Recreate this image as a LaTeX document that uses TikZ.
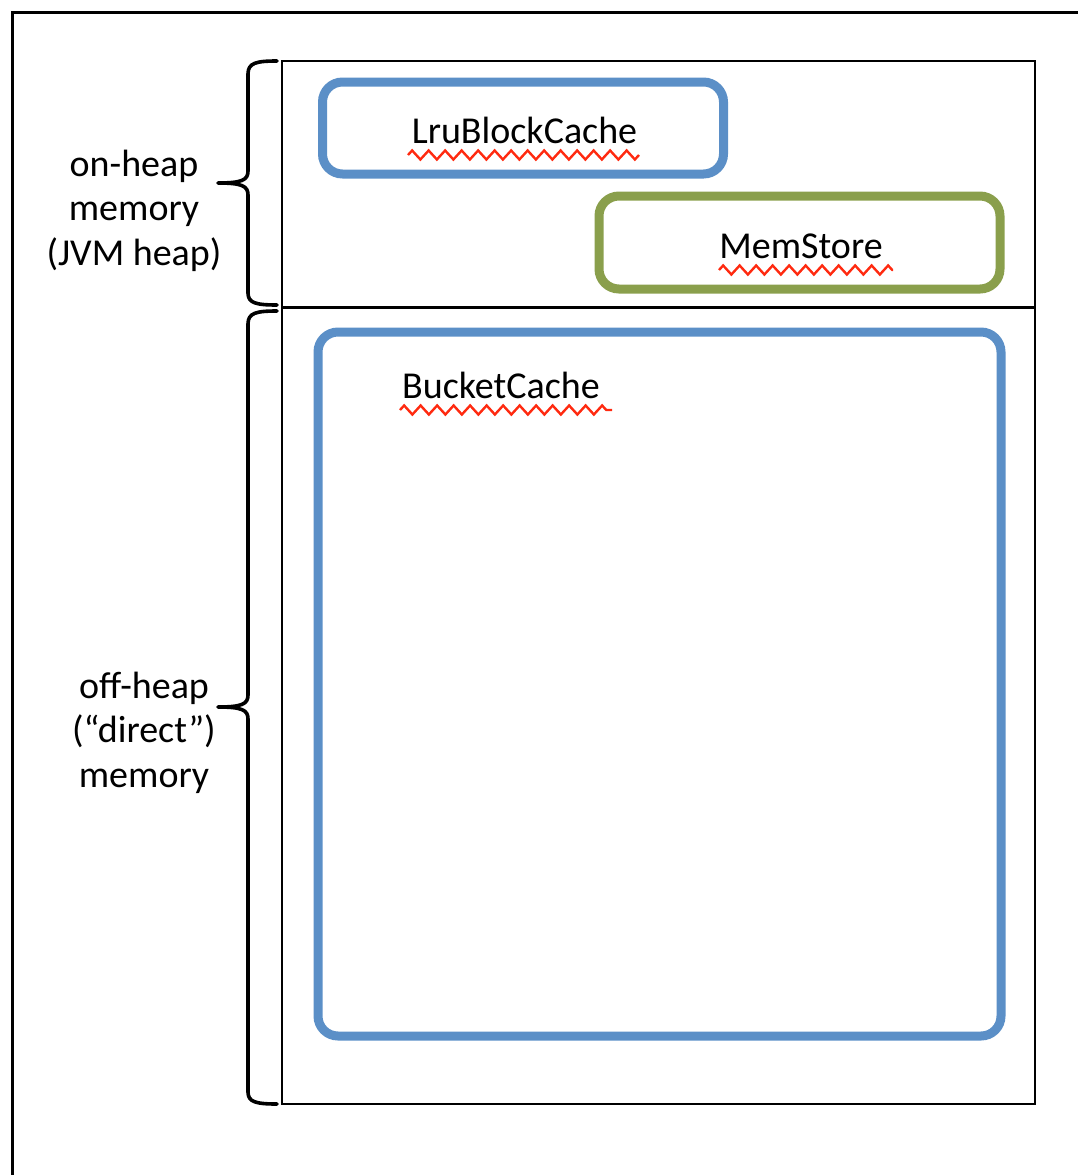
\documentclass[tikz,border=0pt]{standalone}
\usepackage{fontspec}
\setmainfont{Carlito}
\usetikzlibrary{decorations.pathmorphing}
\definecolor{cacheblue}{HTML}{5B8FC7}
\definecolor{storegreen}{HTML}{8A9F4C}
\definecolor{spellred}{HTML}{FF2A10}
\tikzset{
  frameline/.style={line width=3pt, black},
  regionline/.style={line width=2.4pt, black},
  bracestroke/.style={line width=3.6pt, black, line cap=round, line join=round},
  bluebox/.style={line width=9pt, cacheblue, rounded corners=20pt},
  greenbox/.style={line width=9pt, storegreen, rounded corners=20pt},
  lbl/.style={font=\fontsize{38}{44.5}\selectfont, inner sep=0pt, anchor=base},
  sidelbl/.style={font=\fontsize{38}{44.5}\selectfont, inner sep=0pt, align=center},
  squiggle/.style={spellred, line width=2.4pt, decorate, decoration={zigzag, segment length=16.5pt, amplitude=4.5pt}}
}
\begin{document}
\begin{tikzpicture}[x=1pt, y=-1pt]
\useasboundingbox (0,0) rectangle (1078,1175);
% outer frame (cut by the picture edges)
\draw[frameline] (12,1175) -- (12,12) -- (1078,12);
% memory region
\draw[regionline] (282,61) rectangle (1035,1104);
\draw[regionline] (282,307.5) -- (1035,307.5);
% boxes
\draw[bluebox] (322.5,82) rectangle (723.5,174);
\draw[greenbox] (599,196) rectangle (1000,289);
\draw[bluebox] (318,332) rectangle (1001,1036);
% texts
\node[lbl] (lru) at (524.5,143) {LruBlockCache};
\node[lbl] (mem) at (801,258) {MemStore};
\node[lbl, anchor=base west] (bucket) at (402,398) {BucketCache};
% spelling squiggles
\coordinate (lruA) at (408,155); \coordinate (lruB) at (639,155);
\coordinate (memA) at (719,270); \coordinate (memB) at (893,270);
\coordinate (bucA) at (400,410); \coordinate (bucB) at (612,410);
\draw[squiggle] (lruA) -- (lruB);
\draw[squiggle] (memA) -- (memB);
\draw[squiggle] (bucA) -- (bucB);
% braces
\draw[bracestroke] (277,61) .. controls (256,61) and (248,63) .. (248,74) -- (248,171)
  .. controls (248,180) and (242,183) .. (218,183)
  .. controls (242,183) and (248,186) .. (248,195) -- (248,293)
  .. controls (248,303) and (256,305) .. (277,305);
\draw[bracestroke] (277,311) .. controls (256,311) and (248,313) .. (248,324) -- (248,695)
  .. controls (248,704) and (242,707) .. (218,707)
  .. controls (242,707) and (248,710) .. (248,719) -- (248,1092)
  .. controls (248,1102) and (256,1104) .. (277,1104);
% side labels
\node[sidelbl, anchor=base] (onheap) at (134,265) {on-heap\\memory\\(JVM heap)};
\node[sidelbl, anchor=base] (offheap) at (144,787) {off-heap\\(“direct”)\\memory};
\end{tikzpicture}
\end{document}
